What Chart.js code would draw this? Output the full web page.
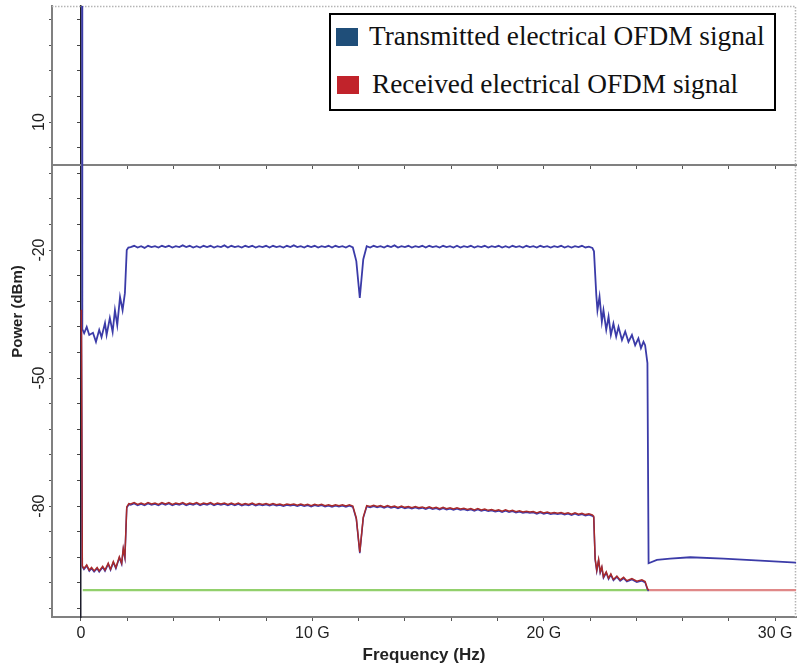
<!DOCTYPE html>
<html>
<head>
<meta charset="utf-8">
<script src="https://cdn.jsdelivr.net/npm/chart.js@4.4.1/dist/chart.umd.min.js"></script>
<style>
  body { margin: 0; background: #fff; }
  #wrap { position: relative; width: 798px; height: 671px; }
  #legendBox {
    position: absolute; left: 329px; top: 13px; width: 447px; height: 98px;
    box-sizing: border-box; border: 2px solid #000; background: #fff;
    font-family: "Liberation Serif", "Times New Roman", serif; font-size: 27.3px; color: #111;
  }
  .sw { position: absolute; width: 22px; height: 18px; }
  .lt { position: absolute; white-space: nowrap; line-height: 1; }
</style>
</head>
<body>
<div id="wrap">
  <canvas id="spectrum"></canvas>
  <div id="legendBox">
    <div class="sw" style="left:5px; top:13px; background:#1f4e79;"></div>
    <div class="lt" style="left:38px; top:8px;">Transmitted electrical OFDM signal</div>
    <div class="sw" style="left:6px; top:61px; background:#c1232b;"></div>
    <div class="lt" style="left:41px; top:56px;">Received electrical OFDM signal</div>
  </div>
</div>
<script>
// frequencies in GHz, power in dBm

// transmitted: DC spike and the rising edge below 2 GHz
const txLowFreq = [0.05, 0.06, 0.14, 0.25, 0.36, 0.52, 0.65, 0.79, 0.89, 1.04, 1.11, 1.25, 1.37, 1.47, 1.57, 1.69, 1.80, 1.90, 1.98, 2.05];
const txLowPower = [45, -38.5, -39.5, -38.0, -39.9, -39.4, -41.5, -38.7, -40.4, -37.1, -39.9, -35.9, -39.2, -34.1, -37.6, -31.0, -34.1, -30.1, -20.0, -19.4];

// occupied band, sampled every 0.15 GHz from 2.15 to 22.10 GHz
const bandStart = 2.15;
const bandStep = 0.15;
const txBand = [
  -19.3, -19.0, -19.4, -19.1, -19.5, -19.0, -19.3, -19.1, -19.4, -19.0,
  -19.3, -19.0, -19.4, -19.1, -19.3, -18.9, -19.3, -19.0, -19.4, -19.1,
  -19.4, -19.0, -19.3, -19.0, -19.4, -19.1, -19.3, -18.9, -19.4, -19.0,
  -19.3, -19.1, -19.4, -19.0, -19.3, -19.0, -19.4, -19.1, -19.3, -19.0,
  -19.4, -19.0, -19.3, -19.1, -19.4, -19.0, -19.3, -18.9, -19.3, -19.1,
  -19.4, -19.0, -19.3, -19.0, -19.4, -19.1, -19.3, -19.0, -19.4, -19.0,
  -19.3, -19.1, -19.4, -19.0, -19.4, -22.6, -31.2, -22.2,
  -19.1, -19.4, -19.0, -19.3, -19.1, -19.4, -19.0, -19.3, -18.9, -19.4,
  -19.1, -19.3, -19.0, -19.4, -19.1, -19.3, -19.0, -19.4, -19.0, -19.3,
  -19.1, -19.4, -19.0, -19.3, -19.1, -19.4, -19.0, -19.4, -19.1, -19.3,
  -19.0, -19.4, -19.1, -19.3, -19.0, -19.4, -19.1, -19.3, -19.0, -19.4,
  -19.1, -19.4, -19.0, -19.3, -19.1, -19.4, -19.0, -19.3, -19.1, -19.4,
  -19.0, -19.3, -19.1, -19.4, -19.1, -19.3, -19.0, -19.4, -19.1, -19.4,
  -19.1, -19.3, -19.0, -19.4, -19.2, -19.5
];
const rxBand = [
  -79.5, -79.2, -79.6, -79.3, -79.6, -79.2, -79.5, -79.3, -79.6, -79.2,
  -79.5, -79.2, -79.6, -79.3, -79.5, -79.2, -79.6, -79.3, -79.5, -79.2,
  -79.6, -79.3, -79.5, -79.2, -79.6, -79.3, -79.5, -79.3, -79.6, -79.3,
  -79.6, -79.3, -79.7, -79.4, -79.6, -79.3, -79.7, -79.4, -79.6, -79.4,
  -79.7, -79.4, -79.7, -79.5, -79.8, -79.5, -79.7, -79.5, -79.8, -79.5,
  -79.8, -79.6, -79.9, -79.6, -79.8, -79.6, -79.9, -79.7, -80.0, -79.7,
  -79.9, -79.7, -80.0, -79.7, -80.0, -82.8, -90.8, -82.6,
  -79.9, -80.1, -79.8, -80.1, -79.9, -80.2, -79.9, -80.2, -80.0, -80.3,
  -80.0, -80.3, -80.1, -80.4, -80.1, -80.4, -80.2, -80.5, -80.2, -80.5,
  -80.3, -80.6, -80.3, -80.6, -80.4, -80.7, -80.4, -80.7, -80.5, -80.8,
  -80.6, -80.9, -80.6, -80.9, -80.7, -81.0, -80.8, -81.1, -80.9, -81.2,
  -80.9, -81.2, -81.0, -81.3, -81.1, -81.4, -81.2, -81.4, -81.3, -81.6,
  -81.3, -81.6, -81.4, -81.7, -81.5, -81.7, -81.5, -81.8, -81.6, -81.9,
  -81.6, -81.9, -81.7, -82.0, -81.8, -82.1
];

// transmitted: falling edge, shoulder and out-of-band level
const txHighFreq = [22.17, 22.27, 22.32, 22.41, 22.51, 22.58, 22.70, 22.80, 22.90, 23.01, 23.13, 23.23, 23.38, 23.52, 23.66, 23.81, 23.95, 24.09, 24.20, 24.31, 24.38, 24.48, 24.53, 24.89, 25.46, 26.33, 27.77, 29.36, 31.00];
const txHighPower = [-20.3, -30.5, -34.1, -30.9, -36.8, -34.1, -38.7, -35.6, -39.9, -37.2, -40.3, -38.0, -41.1, -39.1, -41.5, -39.9, -42.3, -40.7, -43.0, -41.5, -42.3, -46.5, -93.4, -92.6, -92.3, -92.0, -92.3, -92.8, -93.3];

// received: DC spike and rising edge
const rxLowFreq = [0.02, 0.06, 0.13, 0.25, 0.36, 0.46, 0.57, 0.70, 0.79, 0.94, 1.04, 1.18, 1.28, 1.40, 1.51, 1.66, 1.76, 1.83, 1.90, 1.98, 2.07];
const rxLowPower = [-34, -94.0, -94.6, -93.8, -95.0, -94.4, -95.2, -94.4, -95.2, -94.1, -95.0, -93.4, -94.8, -93.0, -94.4, -91.9, -93.4, -89.9, -91.9, -80.2, -79.4];

// received: falling edge
const rxHighFreq = [22.16, 22.22, 22.29, 22.37, 22.44, 22.51, 22.58, 22.70, 22.80, 22.90, 23.01, 23.16, 23.30, 23.45, 23.59, 23.81, 24.02, 24.24, 24.38, 24.48, 24.53];
const rxHighPower = [-82.4, -92.3, -95.0, -92.5, -95.4, -94.2, -96.6, -95.4, -96.9, -95.9, -97.2, -96.4, -97.3, -96.7, -97.5, -97.0, -97.6, -97.3, -97.7, -99.3, -99.7];

// noise floor
const floorFreq = [0.08, 24.53, 31.0];
const floorPower = [-99.7, -99.7, -99.7];

// axis ticks
const xTicks = [0, 2, 4, 6, 8, 10, 12, 14, 16, 18, 20, 22, 24, 26, 28, 30];
const xLabels = { 0: "0", 10: "10 G", 20: "20 G", 30: "30 G" };
const yTicks = [34, 28, 22, 16, 10, 4, -2, -8, -14, -20, -26, -32, -38, -44, -50, -56, -62, -68, -74, -80, -86, -92, -98, -104];
const yLabels = { 10: "10", "-20": "-20", "-50": "-50", "-80": "-80" };

const X_MIN = -1.25, X_MAX = 30.9;
const Y_MIN = -106, Y_MAX = 37.2;

function pairs(freq, power) {
  return freq.map((f, i) => ({ x: f, y: power[i] }));
}
function band(power) {
  return power.map((p, i) => ({ x: +(bandStart + i * bandStep).toFixed(2), y: p }));
}

const txData = [...pairs(txLowFreq, txLowPower), ...band(txBand), ...pairs(txHighFreq, txHighPower)];
const rxData = [...pairs(rxLowFreq, rxLowPower), ...band(rxBand), ...pairs(rxHighFreq, rxHighPower)];
const floorData = pairs(floorFreq, floorPower);

const setTicks = list => scale => { scale.ticks = list.map(v => ({ value: v })); };

// dotted frame on top/right, shifted blue trace under the red one, rotated y labels
const framePlugin = {
  id: "frame",
  beforeDatasetsDraw(chart) {
    const { ctx, chartArea: a } = chart;
    ctx.save();
    ctx.strokeStyle = "#b5b5b5";
    ctx.lineWidth = 1.5;
    ctx.setLineDash([1.5, 1.5]);
    ctx.beginPath();
    ctx.moveTo(a.left, a.top + 0.5);
    ctx.lineTo(a.right - 0.5, a.top + 0.5);
    ctx.lineTo(a.right - 0.5, a.bottom);
    ctx.stroke();
    ctx.restore();
  },
  beforeDatasetDraw(chart, args) {
    const ds = chart.data.datasets[args.index];
    if (ds.shiftY) {
      chart.ctx.save();
      chart.ctx.translate(0, ds.shiftY);
    }
  },
  afterDatasetDraw(chart, args) {
    if (chart.data.datasets[args.index].shiftY) chart.ctx.restore();
  },
  afterDraw(chart) {
    const { ctx } = chart;
    const y = chart.scales.y;
    ctx.save();
    ctx.font = '16px "Liberation Sans", Arial, sans-serif';
    ctx.fillStyle = "#222";
    ctx.textAlign = "center";
    ctx.textBaseline = "middle";
    y.ticks.forEach(t => {
      if (!t.label) return;
      ctx.save();
      ctx.translate(40, y.getPixelForValue(t.value));
      ctx.rotate(-Math.PI / 2);
      ctx.fillText(t.label, 0, 0);
      ctx.restore();
    });
    ctx.restore();
  }
};

new Chart(document.getElementById("spectrum"), {
  type: "line",
  data: {
    datasets: [
      {
        label: "Received electrical OFDM signal",
        data: rxData,
        borderColor: "#a82a2a",
        borderWidth: 1.5,
        order: 1
      },
      {
        label: "received (trace)",
        data: rxData,
        borderColor: "#3b3bb0",
        borderWidth: 1.5,
        shiftY: 1,
        order: 2
      },
      {
        label: "Transmitted electrical OFDM signal",
        data: txData,
        borderColor: "#3b3ba8",
        borderWidth: 1.8,
        order: 3
      },
      {
        label: "floor",
        data: floorData,
        borderWidth: 2.2,
        borderColor: "#92d06c",
        segment: {
          borderColor: ctx => (ctx.p0.parsed.x > 24 ? "#e08888" : "#92d06c")
        },
        order: 4
      }
    ]
  },
  options: {
    responsive: true,
    maintainAspectRatio: false,
    animation: false,
    events: [],
    layout: { padding: { top: 6, right: 2, left: 0, bottom: 0 } },
    elements: { point: { radius: 0 }, line: { tension: 0 } },
    plugins: { legend: { display: false }, tooltip: { enabled: false } },
    scales: {
      x: {
        type: "linear",
        position: "bottom",
        min: X_MIN,
        max: X_MAX,
        afterBuildTicks: setTicks(xTicks),
        afterFit: s => { s.height = 54; },
        ticks: {
          callback: v => xLabels[v] || "",
          autoSkip: false,
          maxRotation: 0,
          padding: 3,
          color: "#222",
          font: { family: '"Liberation Sans", Arial, sans-serif', size: 16 }
        },
        grid: { drawOnChartArea: false, tickLength: 4, color: "#555" },
        border: { color: "#808080", width: 2 },
        title: {
          display: true,
          text: "Frequency (Hz)",
          color: "#222",
          font: { family: '"Liberation Sans", Arial, sans-serif', size: 17, weight: "bold" },
          padding: { top: 0, bottom: 5 }
        }
      },
      y: {
        type: "linear",
        position: "left",
        min: Y_MIN,
        max: Y_MAX,
        afterBuildTicks: setTicks(yTicks),
        afterFit: s => { s.width = 52; },
        ticks: { display: false, callback: v => yLabels[v] || "" },
        grid: { drawOnChartArea: false, tickLength: 3, color: "#555" },
        border: { color: "#808080", width: 2 },
        title: {
          display: true,
          text: "Power (dBm)",
          color: "#222",
          font: { family: '"Liberation Sans", Arial, sans-serif', size: 15, weight: "bold" },
          padding: { top: 9, bottom: 0 }
        }
      },
      // axes crossing at the origin
      yOrigin: {
        type: "linear",
        axis: "y",
        position: { x: 0 },
        min: Y_MIN,
        max: Y_MAX,
        afterBuildTicks: setTicks(yTicks),
        ticks: { display: false },
        grid: { drawOnChartArea: false, tickLength: 3, color: "#444" },
        border: { color: "#1c1c2a", width: 1.5 }
      },
      xOrigin: {
        type: "linear",
        axis: "x",
        position: { y: 0 },
        min: X_MIN,
        max: X_MAX,
        afterBuildTicks: setTicks(xTicks),
        ticks: { display: false },
        grid: { drawOnChartArea: false, tickLength: 3, color: "#555" },
        border: { color: "#808080", width: 2 }
      }
    }
  },
  plugins: [framePlugin]
});
</script>
</body>
</html>
